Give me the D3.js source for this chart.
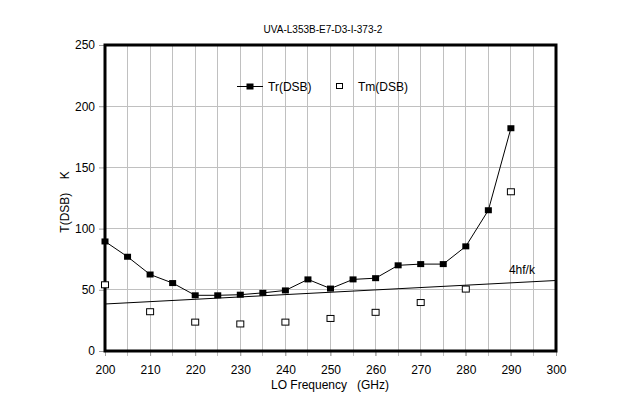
<!DOCTYPE html>
<html><head><meta charset="utf-8">
<script src="https://cdn.jsdelivr.net/npm/d3@7"></script>
<style>body{margin:0;background:#fff}svg{display:block}text{font-family:"Liberation Sans",Arial,sans-serif;fill:#000;white-space:pre}</style>
</head><body><svg id="c" width="623" height="415"></svg>
<script>
const title = "UVA-L353B-E7-D3-I-373-2";
const trFreq = [200,205,210,215,220,225,230,235,240,245,250,255,260,265,270,275,280,285,290];
const trVals = [89.5,77,62.5,55.5,45.5,45.5,46,47.5,49.5,58.5,51,58.5,59.5,70,71,71,85.5,115,182];
const tmFreq = [200,210,220,230,240,250,260,270,280,290];
const tmVals = [54.5,32.5,24,22.5,24,27,32,40,51,130.5];
const hfFreq = [200,300];
const hfVals = [38.4,57.6];
const xTicks = [200,210,220,230,240,250,260,270,280,290,300];
const yTicks = [0,50,100,150,200,250];

const svg = d3.select("#c");
const L=105, R=556, T=45, B=351;
const x = d3.scaleLinear().domain([200,300]).range([L,R]);
const y = d3.scaleLinear().domain([0,250]).range([B,T]);

// grid
svg.append("g").selectAll("line").data(d3.range(205,300,5)).join("line")
  .attr("x1",d=>x(d)).attr("x2",d=>x(d)).attr("y1",T).attr("y2",B+5)
  .attr("stroke","#c0c0c0").attr("stroke-width",1).attr("shape-rendering","crispEdges");
svg.append("g").selectAll("line").data([50,100,150,200]).join("line")
  .attr("x1",L).attr("x2",R).attr("y1",d=>y(d)).attr("y2",d=>y(d))
  .attr("stroke","#c0c0c0").attr("stroke-width",1).attr("shape-rendering","crispEdges");

// axes with ticks
const xAxis = svg.append("g").attr("transform",`translate(0,${B})`)
  .call(d3.axisBottom(x).tickValues(xTicks).tickSize(5).tickPadding(9).tickFormat(d3.format("d")));
const yAxis = svg.append("g").attr("transform",`translate(${L},0)`)
  .call(d3.axisLeft(y).tickValues(yTicks).tickSize(6).tickPadding(4));
[xAxis,yAxis].forEach(a=>{
  a.select(".domain").remove();
  a.selectAll(".tick line").attr("stroke","#a0a0a0");
  a.selectAll("text").style("font-size","12px").style("font-family","Liberation Sans, Arial, sans-serif").attr("fill","#000");
});

// frame
svg.append("rect").attr("x",L).attr("y",T).attr("width",R-L).attr("height",B-T)
  .attr("fill","none").attr("stroke","#000").attr("stroke-width",3);

// 4hf/k line
svg.append("path").datum(hfFreq.map((f,i)=>[f,hfVals[i]]))
  .attr("d",d3.line().x(d=>x(d[0])).y(d=>y(d[1])))
  .attr("fill","none").attr("stroke","#000").attr("stroke-width",1);
svg.append("text").attr("x",x(290)-2).attr("y",y(57.6)-6).style("font-size","12px").text("4hf/k");

// Tr line
const trData = trFreq.map((f,i)=>[f,trVals[i]]);
svg.append("path").datum(trData)
  .attr("d",d3.line().x(d=>x(d[0])).y(d=>y(d[1])))
  .attr("fill","none").attr("stroke","#000").attr("stroke-width",1);
svg.append("g").selectAll("rect").data(trData).join("rect")
  .attr("x",d=>x(d[0])-3.5).attr("y",d=>y(d[1])-3).attr("width",7).attr("height",6).attr("fill","#000");

// Tm markers
const tmData = tmFreq.map((f,i)=>[f,tmVals[i]]);
svg.append("g").selectAll("rect").data(tmData).join("rect")
  .attr("x",d=>x(d[0])-3.5).attr("y",d=>y(d[1])-2.5).attr("width",7).attr("height",6)
  .attr("fill","#fff").attr("stroke","#000").attr("stroke-width",1);

// legend
svg.append("line").attr("x1",237).attr("x2",263).attr("y1",86.5).attr("y2",86.5).attr("stroke","#000");
svg.append("rect").attr("x",246.5).attr("y",83.5).attr("width",7).attr("height",6).attr("fill","#000");
svg.append("text").attr("x",268).attr("y",91).style("font-size","12px").text("Tr(DSB)");
svg.append("rect").attr("x",336.5).attr("y",83.5).attr("width",6).attr("height",5).attr("fill","#fff").attr("stroke","#000");
svg.append("text").attr("x",358).attr("y",91).style("font-size","12px").text("Tm(DSB)");

// title
svg.append("text").attr("x",323).attr("y",33).attr("text-anchor","middle").style("font-size","10px").text(title);
// axis titles
svg.append("text").attr("x",330).attr("y",389).attr("text-anchor","middle").style("font-size","12px").text("LO Frequency   (GHz)");
svg.append("text").attr("transform","translate(69,202) rotate(-90)").attr("text-anchor","middle").style("font-size","12px").text("T(DSB)    K");
</script></body></html>
